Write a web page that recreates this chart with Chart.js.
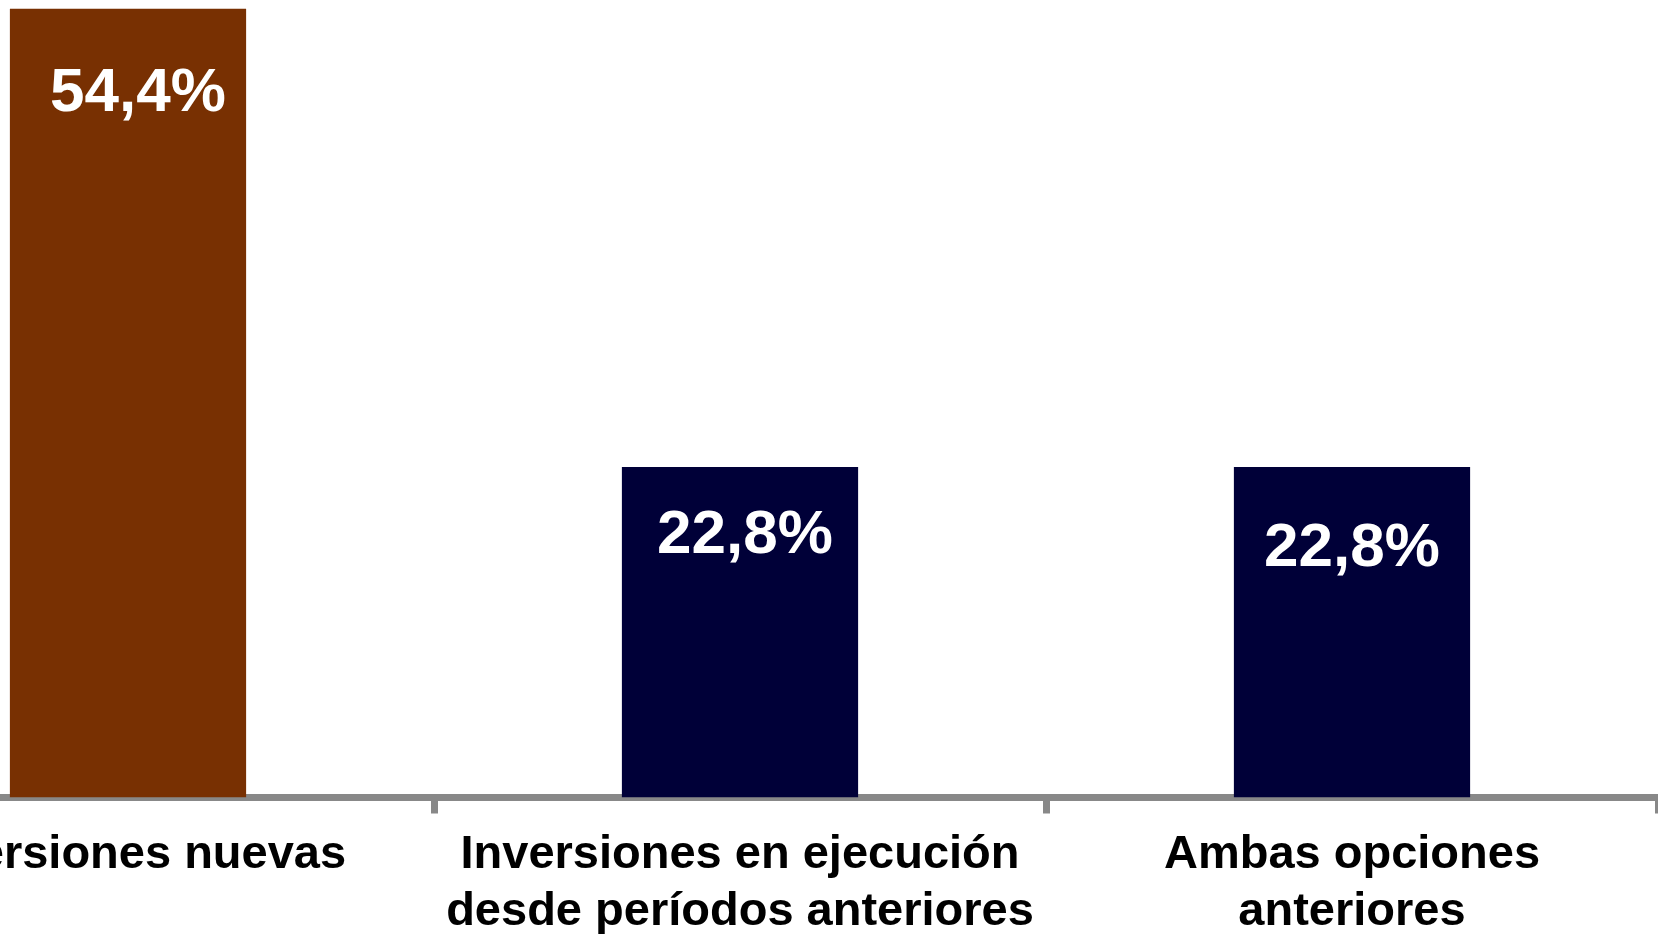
<!DOCTYPE html>
<html>
<head>
<meta charset="utf-8">
<script src="https://cdn.jsdelivr.net/npm/chart.js@4/dist/chart.umd.min.js"></script>
<style>
  html, body { margin: 0; padding: 0; background: #fff; overflow: hidden; }
  #wrap { position: absolute; left: -178px; top: 0; width: 1836px; height: 934px; }
</style>
</head>
<body>
<div id="wrap"><canvas id="chart" width="1836" height="934"></canvas></div>
<script>
// data
const categories = [
    'Inversiones nuevas',
    ['Inversiones en ejecución', 'desde períodos anteriores'],
    ['Ambas opciones', 'anteriores']
];
const values = [54.4, 22.8, 22.8];
const valueLabels = ['54,4%', '22,8%', '22,8%'];
const barColors = ['#783002', '#000038', '#000038'];

/* labels inside the bars */
const barText = {
    id: 'barText',
    afterDatasetsDraw(chart, args, opts) {
        const ctx = chart.ctx;
        const meta = chart.getDatasetMeta(0);
        ctx.save();
        ctx.fillStyle = '#fff';
        ctx.font = 'bold 62px "Liberation Sans", Arial, sans-serif';
        ctx.textAlign = 'center';
        ctx.textBaseline = 'middle';
        meta.data.forEach(function (bar, i) {
            ctx.fillText(valueLabels[i], bar.x + opts.dx[i], bar.y + opts.dy[i]);
        });
        ctx.restore();
    }
};

let ctx = document.getElementById('chart').getContext('2d');
let chart = new Chart(ctx, {
    type: 'bar',
    data: {
        labels: categories,
        datasets: [{
            data: values,
            backgroundColor: barColors,
            borderWidth: 0,
            categoryPercentage: 1,
            barPercentage: 0.386
        }]
    },
    options: {
        responsive: false,
        animation: false,
        layout: { padding: 0 },
        plugins: {
            legend: { display: false },
            tooltip: { enabled: false },
            barText: { dx: [10, 5, 0], dy: [85, 69, 82] }
        },
        scales: {
            x: {
                z: 1,
                grid: {
                    offset: true,
                    drawOnChartArea: false,
                    drawTicks: true,
                    tickLength: 16,
                    tickWidth: 7,
                    tickColor: '#888888'
                },
                border: { display: true, color: '#888888', width: 7 },
                ticks: {
                    color: '#000',
                    padding: 13,
                    maxRotation: 0,
                    autoSkip: false,
                    font: { family: '"Liberation Sans", Arial, sans-serif', size: 47, weight: 'bold', lineHeight: 1.213 }
                },
                afterFit: function (scale) { scale.height = 136.5; }
            },
            y: {
                display: false,
                min: 0,
                max: 55
            }
        }
    },
    plugins: [barText]
});
</script>
</body>
</html>
